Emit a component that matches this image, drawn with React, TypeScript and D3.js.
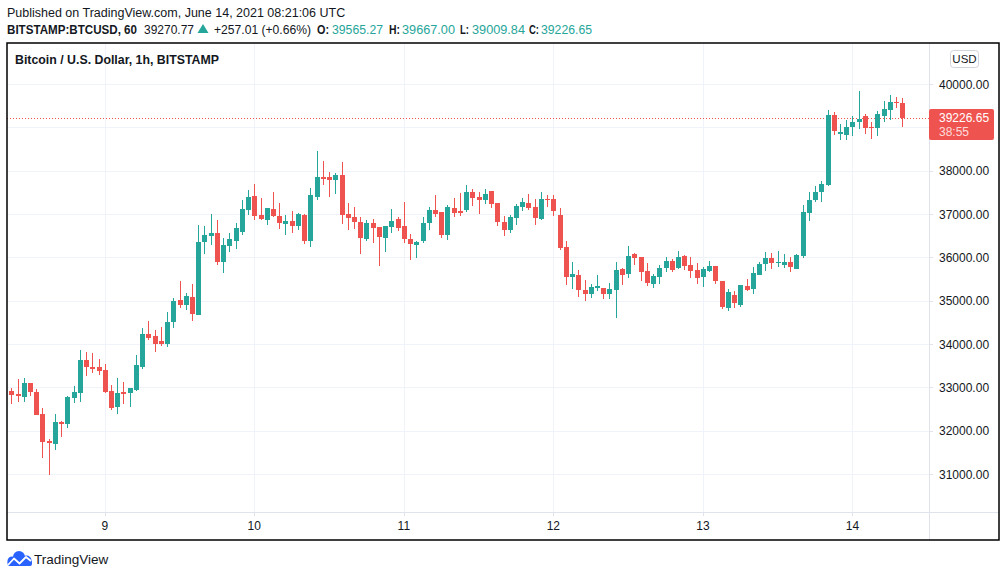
import React from 'react';
import * as d3 from 'd3';

// ---- data (1h candles, BITSTAMP:BTCUSD) ----
const startTime = new Date(Date.UTC(2021, 5, 8, 9));
const opens = [
  32914, 32845, 32784, 33099, 32891, 32384, 31761, 31699, 32199, 32161, 32761, 32876, 33630, 33468, 33468, 33399,
  32914, 32553, 32891, 32876, 32945, 33476, 34230, 34184, 34069, 34007, 34507, 35015, 34899, 35084, 34676, 36353,
  36492, 36561, 35892, 36261, 36376, 36584, 37092, 37415, 36977, 36861, 37115, 36953, 36769, 36838, 36723, 36977,
  36376, 37392, 37854, 37854, 37784, 37907, 36999, 36930, 36815, 36423, 36792, 36700, 36446, 36700, 36884, 36723,
  36423, 36284, 36376, 36792, 37092, 37046, 36515, 37138, 37069, 37092, 37507, 37392, 37323, 37530, 37253, 36815,
  36630, 36907, 37161, 37253, 37161, 36884, 37346, 37346, 36976, 36238, 35546, 35592, 35246, 35153, 35292, 35292,
  35153, 35246, 35730, 35615, 36077, 36007, 35684, 35384, 35546, 35753, 35915, 35753, 36030, 35822, 35707, 35546,
  35684, 35799, 35453, 34830, 35130, 34899, 35338, 35269, 35592, 35846, 35984, 35869, 35823, 35892, 35730, 36030,
  37023, 37323, 37507, 37669, 39285, 38846, 38823, 39008, 39123, 39262, 39008, 38984, 39262, 39400, 39585, 39565.27,
];
const highs = [
  32976, 33191, 33215, 33110, 32953, 32522, 31814, 32384, 32230, 32807, 33030, 33861, 33815, 33792, 33653, 33538,
  33053, 33215, 33122, 32990, 33745, 34369, 34530, 34322, 34392, 34738, 35061, 35453, 35176, 35384, 36746, 36723,
  36999, 36861, 36446, 36561, 36792, 37323, 37553, 37692, 37369, 37150, 37507, 37253, 36976, 37069, 37023, 36990,
  37600, 38454, 38223, 37969, 37946, 38200, 37253, 37161, 36930, 36861, 36884, 36710, 36730, 37115, 36930, 37277,
  36538, 36377, 36930, 37161, 37438, 37056, 37207, 37369, 37484, 37669, 37577, 37507, 37577, 37540, 37263, 36953,
  36976, 37230, 37369, 37461, 37346, 37507, 37438, 37438, 37138, 36377, 35892, 35707, 35477, 35384, 35592, 35300,
  35407, 35892, 35753, 36261, 36100, 36017, 35869, 35615, 35823, 36007, 35961, 36146, 36053, 36007, 35869, 35776,
  35915, 35809, 35463, 35269, 35223, 35361, 35500, 35776, 35892, 36123, 36100, 36146, 36077, 36007, 36077, 37207,
  37507, 37646, 37761, 39400, 39354, 39077, 39169, 39262, 39839, 39308, 39123, 39377, 39607, 39746, 39700, 39667.0,
];
const lows = [
  32622, 32668, 32668, 32807, 32360, 31376, 30976, 31561, 31861, 32068, 32645, 32668, 33268, 33338, 33291, 32876,
  32468, 32391, 32614, 32553, 32914, 33430, 34099, 33822, 33961, 33938, 34376, 34838, 34784, 34530, 34676, 36077,
  36284, 35822, 35638, 36123, 36192, 36515, 36976, 36861, 36870, 36746, 36930, 36653, 36515, 36561, 36630, 36307,
  36238, 37323, 37669, 37392, 37461, 36769, 36630, 36653, 36077, 36376, 36330, 35799, 36123, 36561, 36607, 36330,
  35938, 35984, 36330, 36630, 36930, 36446, 36400, 36930, 36953, 37046, 37184, 36999, 37230, 37138, 36723, 36492,
  36561, 36746, 37069, 37092, 36746, 36861, 37161, 36953, 36169, 35361, 35269, 35084, 34992, 35061, 35223, 35038,
  35038, 34599, 35361, 35522, 35822, 35453, 35338, 35292, 35384, 35661, 35661, 35730, 35707, 35523, 35384, 35315,
  35661, 35384, 34807, 34761, 34830, 34853, 35223, 35153, 35582, 35684, 35730, 35776, 35753, 35661, 35730, 35984,
  36838, 37277, 37277, 37646, 38823, 38707, 38707, 38800, 38961, 38846, 38731, 38800, 39123, 39169, 39446, 39009.84,
];
const closes = [
  32830, 32807, 33099, 32899, 32368, 31745, 31722, 32199, 32161, 32776, 32891, 33630, 33476, 33430, 33384, 32899,
  32530, 32868, 32853, 32984, 33515, 34230, 34145, 34007, 34007, 34507, 34992, 34899, 35107, 34692, 36353, 36515,
  36561, 35892, 36284, 36423, 36676, 37115, 37392, 36954, 36884, 37138, 36953, 36792, 36838, 36723, 36999, 36376,
  37438, 37854, 37807, 37784, 37900, 36977, 36907, 36815, 36446, 36792, 36676, 36469, 36723, 36838, 36676, 36423,
  36307, 36353, 36792, 37092, 36999, 36515, 37161, 37023, 37023, 37507, 37369, 37323, 37461, 37230, 36815, 36630,
  36930, 37184, 37277, 37138, 36907, 37346, 37323, 37069, 36215, 35546, 35615, 35246, 35153, 35315, 35338, 35153,
  35269, 35707, 35592, 36030, 35984, 35661, 35407, 35569, 35753, 35915, 35707, 36007, 35799, 35684, 35523, 35730,
  35799, 35453, 34853, 35200, 34945, 35361, 35246, 35638, 35846, 35984, 35869, 35892, 35892, 35776, 36053, 37046,
  37323, 37507, 37692, 39285, 38915, 38892, 39008, 39123, 39192, 38984, 38984, 39308, 39423, 39585, 39561, 39226.65,
];
const priceTicks = [31000, 32000, 33000, 34000, 35000, 36000, 37000, 38000, 39000, 40000];
const lastPrice = 39226.65;
const countdown = '38:55';

const UP = '#26a69a';
const DOWN = '#ef5350';
const TEXT = '#131722';
const GRID = '#f0f3fa';
const AXISLINE = '#e0e3eb';
const FONT = '"Liberation Sans", Arial, sans-serif';

type Seg = { t: string; x: number; w: number; bold?: boolean; color?: string };
const headerSegs: Seg[] = [
  { t: 'BITSTAMP:BTCUSD, 60', x: 7, w: 130, bold: true },
  { t: '39270.77', x: 144, w: 50 },
  { t: '+257.01 (+0.66%)', x: 214, w: 97 },
  { t: 'O:', x: 317, w: 12, bold: true },
  { t: '39565.27', x: 332, w: 51, color: UP },
  { t: 'H:', x: 389, w: 11, bold: true },
  { t: '39667.00', x: 402, w: 53, color: UP },
  { t: 'L:', x: 460, w: 9, bold: true },
  { t: '39009.84', x: 472, w: 53, color: UP },
  { t: 'C:', x: 529, w: 10, bold: true },
  { t: '39226.65', x: 541, w: 51, color: UP },
];

export default function App() {
  const W = 1006;
  const H = 577;
  const fL = 7, fT = 43, fR = 999, fB = 540;
  const plotR = 929, plotB = 512;

  const times = opens.map((_, i) => d3.utcHour.offset(startTime, i));
  const x = d3.scaleUtc().domain([times[0], times[times.length - 1]]).range([11.3, 902.3]);
  const y = d3.scaleLinear().domain([31000, 40000]).range([474, 84]);
  const dayTicks = d3.utcDay.range(d3.utcDay.ceil(times[0]), times[times.length - 1]);
  const fmtDay = d3.utcFormat('%-d');
  const yLast = y(lastPrice);
  const bodyW = 5;

  return (
    <svg width={W} height={H} style={{ position: 'absolute', left: 0, top: 0, display: 'block' }} fontFamily={FONT}>
      <rect x={0} y={0} width={W} height={H} fill="#ffffff" />

      {/* header */}
      <text x={7} y={17} fontSize={12.5} fill={TEXT}>Published on TradingView.com, June 14, 2021 08:21:06 UTC</text>
      {headerSegs.map((s, i) => (
        <text
          key={'hs' + i}
          x={s.x}
          y={34}
          fontSize={12.5}
          fontWeight={s.bold ? 'bold' : 'normal'}
          fill={s.color || TEXT}
          textLength={s.w}
          lengthAdjust="spacingAndGlyphs"
        >
          {s.t}
        </text>
      ))}
      <path d="M197.5,33 L203,24 L208.5,33 Z" fill={UP} />

      {/* grid */}
      <g shapeRendering="crispEdges">
        {priceTicks.map((p) => (
          <line key={'h' + p} x1={fL} x2={plotR} y1={Math.round(y(p)) + 0.5} y2={Math.round(y(p)) + 0.5} stroke={GRID} />
        ))}
        {dayTicks.map((d) => (
          <line key={'v' + d.getTime()} x1={Math.round(x(d)) + 0.5} x2={Math.round(x(d)) + 0.5} y1={fT} y2={plotB} stroke={GRID} />
        ))}
      </g>

      {/* title */}
      <text x={15} y={64} fontSize={12.5} fontWeight="bold" fill={TEXT} textLength={204} lengthAdjust="spacingAndGlyphs">
        Bitcoin / U.S. Dollar, 1h, BITSTAMP
      </text>

      {/* last price line */}
      <line x1={fL} x2={plotR} y1={Math.round(yLast) + 0.5} y2={Math.round(yLast) + 0.5} stroke={DOWN} strokeDasharray="1,2" />

      {/* candles */}
      <g shapeRendering="crispEdges">
        {opens.map((o, i) => {
          const c = closes[i];
          const col = c >= o ? UP : DOWN;
          const cx = Math.round(x(times[i]));
          const top = Math.round(y(Math.max(o, c)));
          const bot = Math.round(y(Math.min(o, c)));
          return (
            <g key={i}>
              <line x1={cx + 0.5} x2={cx + 0.5} y1={Math.round(y(highs[i]))} y2={Math.round(y(lows[i]))} stroke={col} strokeWidth={1} />
              <rect x={cx + 0.5 - bodyW / 2} y={top} width={bodyW} height={Math.max(1, bot - top)} fill={col} />
            </g>
          );
        })}
      </g>

      {/* axes separators */}
      <g shapeRendering="crispEdges">
        <line x1={plotR + 0.5} x2={plotR + 0.5} y1={fT} y2={fB} stroke={AXISLINE} />
        <line x1={fL} x2={fR} y1={plotB + 0.5} y2={plotB + 0.5} stroke={AXISLINE} />
        {priceTicks.map((p) => (
          <line key={'t' + p} x1={plotR} x2={plotR + 4} y1={Math.round(y(p)) + 0.5} y2={Math.round(y(p)) + 0.5} stroke={AXISLINE} />
        ))}
        {dayTicks.map((d) => (
          <line key={'dt' + d.getTime()} x1={Math.round(x(d)) + 0.5} x2={Math.round(x(d)) + 0.5} y1={plotB} y2={plotB + 4} stroke={AXISLINE} />
        ))}
      </g>

      {/* price axis labels */}
      {priceTicks
        .filter((p) => Math.abs(y(p) - yLast) > 18)
        .map((p) => (
          <text key={'l' + p} x={939} y={y(p) + 4.5} fontSize={12} fill={TEXT}>
            {p.toFixed(2)}
          </text>
        ))}

      {/* day labels */}
      {dayTicks.map((d) => (
        <text key={'dl' + d.getTime()} x={x(d)} y={530} fontSize={12} fill={TEXT} textAnchor="middle">
          {fmtDay(d)}
        </text>
      ))}

      {/* last price label */}
      <rect x={plotR} y={yLast - 8.5} width={65} height={31} rx={2} fill={DOWN} />
      <text x={939} y={yLast + 4.5} fontSize={12} fill="#ffffff">{lastPrice.toFixed(2)}</text>
      <text x={939} y={yLast + 18} fontSize={12} fill="#ffffff" fillOpacity={0.8}>{countdown}</text>

      {/* USD box */}
      <rect x={950.5} y={50.5} width={28} height={17} rx={3} fill="#ffffff" stroke="#d1d4dc" />
      <text x={964.5} y={63} fontSize={11.5} fill={TEXT} textAnchor="middle">USD</text>

      {/* frame */}
      <rect x={fL} y={fT} width={fR - fL} height={fB - fT} fill="none" stroke="#000000" strokeWidth={1.5} />

      {/* footer logo */}
      <g>
        <circle cx={12} cy={561} r={4.5} fill="#2962ff" />
        <circle cx={19} cy={557} r={6} fill="#2962ff" />
        <circle cx={26.5} cy={560.5} r={5} fill="#2962ff" />
        <rect x={7.5} y={560} width={24.5} height={6} rx={2} fill="#2962ff" />
        <polyline points="8,565 14,558.5 19.5,563.5 26,557 31,561" fill="none" stroke="#ffffff" strokeWidth={1.8} strokeLinejoin="round" />
      </g>
      <text x={34} y={564} fontSize={13.5} fill={TEXT}>TradingView</text>
    </svg>
  );
}
